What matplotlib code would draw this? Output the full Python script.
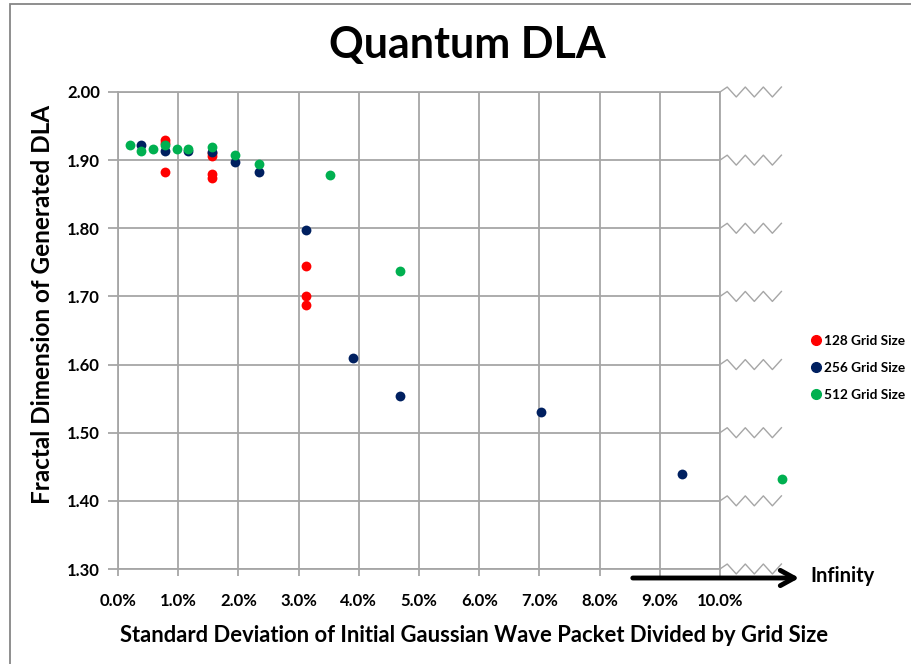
import matplotlib
matplotlib.use("Agg")
import matplotlib.pyplot as plt
from matplotlib.patches import Rectangle
from matplotlib.lines import Line2D

plt.rcParams['font.family'] = ['Lato', 'DejaVu Sans']
plt.rcParams['font.weight'] = 'bold'

# sigma / grid size in percent, fractal dimension
x_128 = [0.78, 0.78, 0.78, 1.56, 1.56, 1.56, 1.56, 3.125, 3.125, 3.125]
y_128 = [1.930, 1.925, 1.882, 1.910, 1.906, 1.880, 1.874, 1.744, 1.700, 1.688]

x_256 = [0.39, 0.78, 1.17, 1.56, 1.95, 2.34, 3.125, 3.90, 4.69, 7.03, 9.375]
y_256 = [1.922, 1.913, 1.914, 1.912, 1.897, 1.882, 1.797, 1.610, 1.554, 1.530, 1.439]

x_512 = [0.195, 0.39, 0.586, 0.78, 0.98, 1.17, 1.56, 1.95, 2.34, 3.52, 4.69, 11.03]
y_512 = [1.922, 1.913, 1.916, 1.922, 1.917, 1.917, 1.920, 1.908, 1.894, 1.878, 1.738, 1.432]

series = [
    ("128 Grid Size", x_128, y_128, "#FF0000"),
    ("256 Grid Size", x_256, y_256, "#002060"),
    ("512 Grid Size", x_512, y_512, "#00B050"),
]

y_ticks = [1.30, 1.40, 1.50, 1.60, 1.70, 1.80, 1.90, 2.00]
x_ticks = list(range(0, 11))

W, H = 911, 664
fig = plt.figure(figsize=(W / 100, H / 100), dpi=100)
ax = fig.add_axes([118 / W, (H - 569) / H, 602 / W, 477 / H])

grid_col = "#a6a6a6"
ax.set_xlim(0, 10)
ax.set_ylim(1.30, 2.00)
ax.set_xticks(x_ticks)
ax.set_xticklabels(["%.1f%%" % t for t in x_ticks], fontsize=12, fontweight='bold')
ax.set_yticks(y_ticks)
ax.set_yticklabels(["%.2f" % t for t in y_ticks], fontsize=12, fontweight='bold')
ax.grid(True, color=grid_col, linewidth=1.3)
ax.set_axisbelow(True)
for s in ax.spines.values():
    s.set_color(grid_col)
    s.set_linewidth(1.3)
ax.tick_params(axis='y', direction='out', length=7, width=1.3, color=grid_col, pad=6)
ax.tick_params(axis='x', direction='out', length=5, width=1.3, color=grid_col, pad=12)

for name, xs, ys, col in series:
    ax.scatter(xs, ys, s=50, color=col, label=name, clip_on=False, zorder=3, linewidths=0)

# broken-axis zigzags to the right of the plot
zx = [10, 10.12, 10.27, 10.42, 10.57, 10.72, 10.87, 11.02]
zd = [0, 0.0073, -0.0073, 0.0073, -0.0073, 0.0073, -0.0073, 0.0073]
for yt in y_ticks:
    ax.plot(zx, [yt + d for d in zd], color=grid_col, linewidth=1.0, clip_on=False, zorder=1)

# arrow to infinity
ax.annotate("", xy=(802, H - 578), xytext=(630, H - 578),
            xycoords='figure pixels', textcoords='figure pixels',
            arrowprops=dict(arrowstyle='->,head_length=1.0,head_width=0.55', color='black', lw=3.5))
fig.text(810 / W, (H - 576) / H, "Infinity", fontsize=14.5, fontweight='bold', va='center', ha='left')

fig.text(467 / W, (H - 45) / H, "Quantum DLA", fontsize=31, fontweight='bold', ha='center', va='center')
fig.text(474 / W, (H - 636) / H,
         "Standard Deviation of Initial Gaussian Wave Packet Divided by Grid Size",
         fontsize=15.8, fontweight='bold', ha='center', va='center')
fig.text(43 / W, (H - 304) / H, "Fractal Dimension of Generated DLA",
         fontsize=17.5, fontweight='bold', ha='center', va='center', rotation=90)

handles = [Line2D([], [], marker='o', linestyle='', color=c, markersize=7, label=n)
           for n, _, _, c in series]
fig.legend(handles=handles, loc='center left', bbox_to_anchor=(804 / W, (H - 368) / H),
           frameon=False, fontsize=9.8, handletextpad=0.1, labelspacing=1.1,
           handlelength=1.0, borderaxespad=0)

# chart area border
fig.patches.append(Rectangle((10 / W, -0.1), 1.0, (H - 4) / H + 0.1, transform=fig.transFigure,
                             fill=False, edgecolor="#868686", linewidth=1.3))

fig.savefig("out.png", dpi=100)
